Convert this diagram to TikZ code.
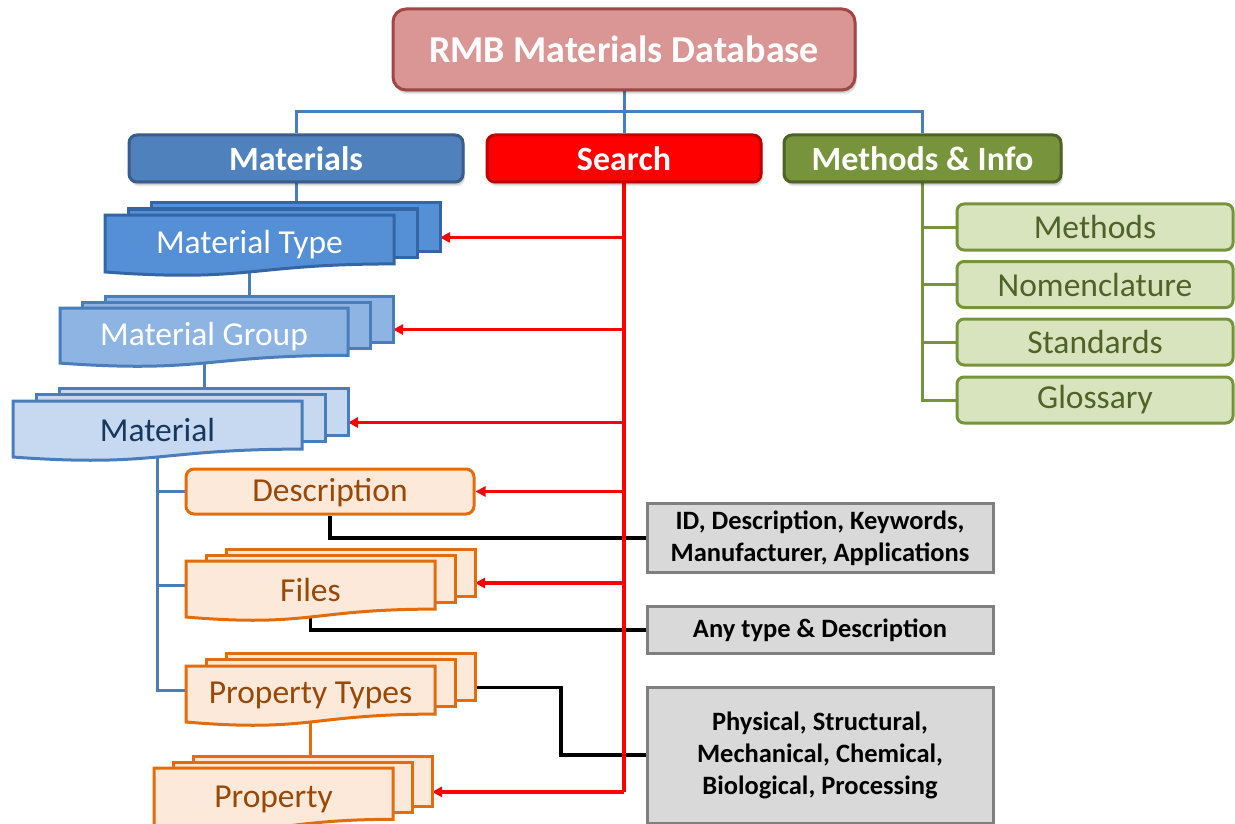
\documentclass[tikz,border=0pt]{standalone}
\usepackage{fontspec}
\setmainfont{Carlito}
\usetikzlibrary{arrows.meta,shadows,calc}

\definecolor{titlefill}{HTML}{D99694}
\definecolor{titleline}{HTML}{A04644}
\definecolor{matfill}{HTML}{4F81BD}
\definecolor{matline}{HTML}{385D8A}
\definecolor{searchfill}{HTML}{FF0000}
\definecolor{searchline}{HTML}{C00000}
\definecolor{methfill}{HTML}{77933C}
\definecolor{methline}{HTML}{4F6228}
\definecolor{typefill}{HTML}{5590D6}
\definecolor{typeline}{HTML}{3465A4}
\definecolor{groupfill}{HTML}{8EB4E3}
\definecolor{groupline}{HTML}{4A7EBB}
\definecolor{itemfill}{HTML}{C6D9F1}
\definecolor{itemline}{HTML}{4A7EBB}
\definecolor{itemtext}{HTML}{17375E}
\definecolor{peachfill}{HTML}{FDE9D9}
\definecolor{peachline}{HTML}{E46C0A}
\definecolor{peachtext}{HTML}{984807}
\definecolor{leaffill}{HTML}{D7E4BD}
\definecolor{leafline}{HTML}{77933C}
\definecolor{leaftext}{HTML}{4F6228}
\definecolor{notefill}{HTML}{D9D9D9}
\definecolor{noteline}{HTML}{7F7F7F}
\definecolor{treeblue}{HTML}{4A7EBB}

\pgfdeclarelayer{paper}
\pgfdeclarelayer{wires}
\pgfsetlayers{paper,wires,main}

\newcommand\sz[2]{\fontsize{#1}{#2}\selectfont}

% Stack of three pages: name, x, y, width, height, page offset x, page offset y, look, label
\newcommand\stackdoc[9]{%
  \path[#8 page] ({#2+2*#6},{#3-2*#7}) rectangle ++(#4,{0.79*#5});
  \path[#8 page] ({#2+#6},{#3-#7}) rectangle ++(#4,{0.79*#5});
  \path[#8 page] (#2,#3) -- ({#2+#4},#3) -- ({#2+#4},{#3+0.802*#5})
     .. controls ({#2+0.5*#4},{#3+0.802*#5}) and ({#2+0.5*#4},{#3+1.108*#5})
     .. (#2,{#3+0.934*#5}) -- cycle;
  \node[#8 text] (#1) at ({#2+0.5*#4},{#3+0.49*#5}) {#9};
  \coordinate (#1-n) at ({#2+2*#6+0.5*#4},{#3-2*#7});
  \coordinate (#1-s) at ({#2+0.5*#4},{#3+0.93*#5});
  \coordinate (#1-w) at (#2,{#3+0.4*#5});
  \coordinate (#1-e) at ({#2+2*#6+#4},{#3-#7+0.467*#5});
}

\tikzset{
  edge/.style={line width=3pt, line join=miter},
  softshadow/.style={
      general shadow={fill=black, fill opacity=0.08, shadow xshift=2pt, shadow yshift=-4.5pt},
      general shadow={fill=black, fill opacity=0.10, shadow xshift=1.5pt, shadow yshift=-3pt},
      general shadow={fill=black, fill opacity=0.12, shadow xshift=1pt, shadow yshift=-1.8pt}},
  headbox/.style={edge, rounded corners=8pt, inner sep=0pt, text=white,
      font=\sz{34}{40}\bfseries, minimum height=47pt, softshadow},
  type page/.style={edge, draw=typeline, fill=typefill},
  type text/.style={inner sep=0pt, text=white, font=\sz{33.5}{40}},
  group page/.style={edge, draw=groupline, fill=groupfill},
  group text/.style={inner sep=0pt, text=white, font=\sz{33.5}{40}},
  item page/.style={edge, draw=itemline, fill=itemfill},
  item text/.style={inner sep=0pt, text=itemtext, font=\sz{33.5}{40}},
  peach page/.style={edge, draw=peachline, fill=peachfill},
  peach text/.style={inner sep=0pt, text=peachtext, font=\sz{33.5}{40}},
  peachbox/.style={edge, draw=peachline, fill=peachfill, rounded corners=8pt,
      text=peachtext, font=\sz{33.5}{40}, inner sep=0pt,
      text height=27.5pt, text depth=7pt},
  leafbox/.style={edge, draw=leafline, fill=leaffill, rounded corners=7pt,
      text=leaftext, font=\sz{33.5}{40}, inner sep=0pt,
      minimum width=276pt, minimum height=46pt},
  notebox/.style={edge, draw=noteline, fill=notefill, text=black,
      font=\sz{26.5}{32}\bfseries, align=center, inner sep=0pt,
      minimum width=346pt},
  blueline/.style={line width=3pt, draw=treeblue},
  greenline/.style={line width=3pt, draw=leafline},
  orangeline/.style={line width=3pt, draw=peachline},
  blackline/.style={line width=3.2pt, draw=black},
  redline/.style={line width=3.5pt, draw=red},
  redarrow/.style={redline, -{Triangle[length=10pt,width=10pt]}},
}

\begin{document}
\begin{tikzpicture}[x=1pt,y=-1pt]
\begin{pgfonlayer}{paper}
  \fill[white] (0,0) rectangle (1235,824);
\end{pgfonlayer}
\useasboundingbox (0,0) rectangle (1235,824);

% top level
\node[edge, draw=titleline, fill=titlefill, rounded corners=13pt, inner sep=0pt,
      minimum width=462pt, minimum height=81pt, text=white,
      font=\sz{38}{44}\bfseries, softshadow] (title) at (624,49.5) {RMB Materials Database};
\node[headbox, draw=matline, fill=matfill, minimum width=334pt] (materials) at (296,158.5) {Materials};
\node[headbox, draw=searchline, fill=searchfill, minimum width=274pt] (search) at (624,158.5) {Search};
\node[headbox, draw=methline, fill=methfill, minimum width=277pt] (methods) at (922.5,158.5) {Methods \& Info};

% materials hierarchy
\stackdoc{mt}{105}{215}{289}{61}{23}{6}{type}{Material Type}
\stackdoc{mg}{60}{308}{288}{59}{22.5}{6}{group}{Material Group}
\stackdoc{mat}{13}{401}{289}{60}{23}{6.5}{item}{Material}
\node[peachbox, minimum width=288pt, minimum height=45pt] (desc) at (330,491.5) {Description};
\stackdoc{files}{186}{561}{249}{60}{20}{6}{peach}{Files}
\stackdoc{pt}{186}{666}{249}{60}{20}{6.5}{peach}{Property Types}
\stackdoc{prop}{154}{768}{239}{64}{19.5}{6}{peach}{Property}

% methods & info entries
\node[leafbox] (meth) at (1095,227) {Methods};
\node[leafbox] (nomen) at (1095,284.5) {Nomenclature};
\node[leafbox] (stand) at (1095,342) {Standards};
\node[leafbox] (gloss) at (1095,400) {Glossary};

% notes
\node[notebox, minimum height=69pt] (note1) at (820,538) {ID, Description, Keywords,\\Manufacturer, Applications};
\node[notebox, minimum height=47pt] (note2) at (820,630) {Any type \& Description};
\node[notebox, minimum height=136pt] (note3) at (820,755) {Physical, Structural,\\Mechanical, Chemical,\\Biological, Processing};

\begin{pgfonlayer}{wires}
  \coordinate (hub) at (624,112);
  \draw[blueline] (title.south) -- (hub);
  \draw[blueline] (materials.north) |- (hub) -| (methods.north);
  \draw[blueline] (hub) -- (search.north);
  \draw[blueline] (materials.south) -- (materials.south |- mt-n);
  \draw[blueline] (mt-s) -- (mt-s |- mg-n);
  \draw[blueline] (mg-s) -- (mg-s |- mat-n);
  \draw[blueline] (mat-s) |- (pt-w);
  \draw[blueline] (mat-s |- desc.west) -- (desc.west);
  \draw[blueline] (mat-s |- files-w) -- (files-w);
  \draw[orangeline] (pt-s) -- (pt-s |- prop-n);

  \draw[greenline] (methods.south) |- (gloss.west);
  \draw[greenline] (methods.south |- meth.west) -- (meth.west);
  \draw[greenline] (methods.south |- nomen.west) -- (nomen.west);
  \draw[greenline] (methods.south |- stand.west) -- (stand.west);

  \draw[blackline] (desc.south) |- (note1.west);
  \draw[blackline] (files-s) |- (note2.west);
  \draw[blackline] (pt-e) -- ++(86,0) |- (note3.west);

  \draw[redline] (search.south) -- (search.south |- prop-e);
  \draw[redarrow] (search.south |- mt-e) -- (mt-e);
  \draw[redarrow] (search.south |- mg-e) -- (mg-e);
  \draw[redarrow] (search.south |- mat-e) -- (mat-e);
  \draw[redarrow] (search.south |- desc.east) -- (desc.east);
  \draw[redarrow] (search.south |- files-e) -- (files-e);
  \draw[redarrow] (search.south |- prop-e) -- (prop-e);
\end{pgfonlayer}
\end{tikzpicture}
\end{document}
